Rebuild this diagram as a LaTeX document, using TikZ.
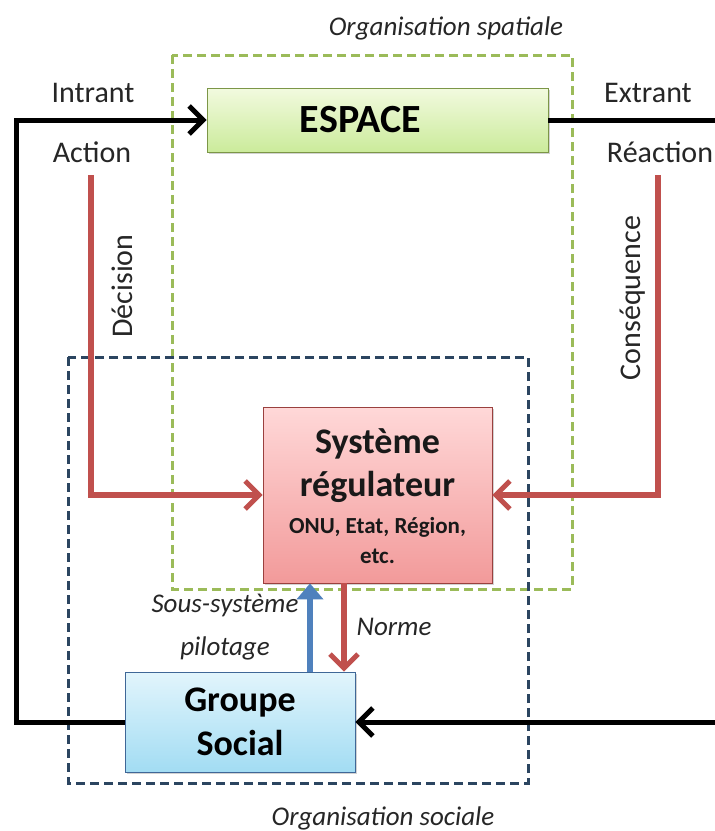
\documentclass[tikz,border=0pt]{standalone}
\usepackage{fontspec}
\setmainfont{Carlito}
\usetikzlibrary{arrows.meta,shadows}
\definecolor{offred}{HTML}{C0504D}
\definecolor{offblue}{HTML}{4F81BD}
\definecolor{offgreen}{HTML}{9BBB59}
\definecolor{darkblue}{HTML}{2B4560}
\definecolor{esptop}{HTML}{F2FADF}
\definecolor{espbot}{HTML}{CBEB9B}
\definecolor{systop}{HTML}{FFD8D8}
\definecolor{sysbot}{HTML}{F29A9A}
\definecolor{grptop}{HTML}{E2F5FC}
\definecolor{grpbot}{HTML}{A2DCF3}
\tikzset{
  box/.style={draw, line width=0.8pt, align=center, inner sep=0pt, font=\bfseries,
    drop shadow={shadow xshift=2pt, shadow yshift=-2pt, opacity=0.35}},
  boxtxt/.style={inner sep=0pt, anchor=base, text=black!90},
  lbl/.style={inner sep=0pt, font=\fontsize{30}{32}\selectfont, text=black!85},
  ilbl/.style={inner sep=0pt, font=\fontsize{27}{43}\selectfont\itshape, text=black!85},
  blackline/.style={line width=5pt, black},
  redline/.style={line width=6pt, offred},
  chev/.tip={Straight Barb[length=14pt, width=28pt, line width=5pt]},
  frame/.style={dash pattern=on 9pt off 5pt, line width=3pt},
}
\begin{document}
\begin{tikzpicture}[x=1pt, y=-1pt]
\useasboundingbox (0,0) rectangle (715,831);
\clip (0,0) rectangle (715,831);
\fill[white] (0,0) rectangle (715,831);

% frames
\draw[frame, offgreen] (172,55) rectangle (572,589);
\draw[frame, darkblue] (68,357) rectangle (528,783);

% boxes
\node[box, draw=offgreen!80!black, top color=esptop, bottom color=espbot,
  minimum width=341pt, minimum height=64pt, font=\fontsize{40}{42}\selectfont\bfseries]
  (espace) at (377.5,120) {ESPACE\hspace*{34pt}};
\node[box, draw=offred!80!black, top color=systop, bottom color=sysbot,
  minimum width=229pt, minimum height=176pt] (sys) at (377.5,495) {};
\node[boxtxt, font=\fontsize{36}{40}\selectfont\bfseries] (sys1) at (377.5,453) {Système};
\node[boxtxt, font=\fontsize{36}{40}\selectfont\bfseries] (sys2) at (377.5,496) {régulateur};
\node[boxtxt, font=\fontsize{23}{26}\selectfont\bfseries] (sys3) at (377.5,533) {ONU, Etat, Région,};
\node[boxtxt, font=\fontsize{23}{26}\selectfont\bfseries] (sys4) at (377.5,563) {etc.};
\node[box, draw=offblue!80!black, top color=grptop, bottom color=grpbot,
  minimum width=230pt, minimum height=100pt, font=\fontsize{36}{44}\selectfont\bfseries]
  (groupe) at (240,722) {Groupe\\Social};

% labels
\node[ilbl] (orgsp) at (446,28) {Organisation spatiale};
\node[ilbl] (orgso) at (383,818) {Organisation sociale};
\node[lbl] (intrant) at (93,93) {Intrant};
\node[lbl] (action) at (92,152) {Action};
\node[lbl] (extrant) at (648,93) {Extrant};
\node[lbl] (reaction) at (660,152) {Réaction};
\node[lbl, rotate=90] (decision) at (122,286) {Décision};
\node[lbl, rotate=90] (consequence) at (633,298) {Conséquence};
\node[ilbl, align=center] (sous) at (225,627) {Sous-système\\pilotage};
\node[ilbl] (norme) at (394,627) {Norme};

% black loop
\coordinate (tl) at (16,120);
\coordinate (bl) at (16,722);
\coordinate (tr) at (720,120);
\coordinate (br) at (720,722);
\draw[blackline, -{chev}] (groupe.west) -- (bl) -- (tl) -- (espace.west);
\draw[blackline, -{chev}] (espace.east) -- (tr) -- (br) -- (groupe.east);

% red decision/consequence
\coordinate (dtop) at (91,175);
\coordinate (ctop) at (658,175);
\draw[redline, -{chev}] (dtop) |- (sys.west);
\draw[redline, -{chev}] (ctop) |- (sys.east);

% vertical arrows
\draw[line width=6pt, offblue, -{Triangle[length=16pt, width=26pt]}] (groupe.north -| 310,0) -- (sys.south -| 310,0);
\draw[redline, -{chev}] (sys.south -| 344,0) -- (groupe.north -| 344,0);
\end{tikzpicture}
\end{document}
